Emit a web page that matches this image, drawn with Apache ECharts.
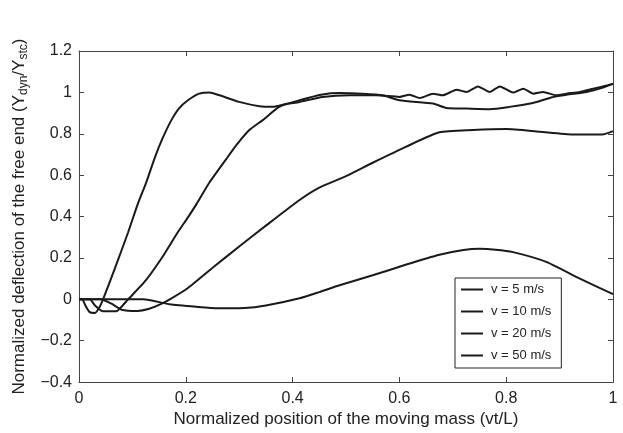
<!DOCTYPE html>
<html>
<head>
<meta charset="utf-8">
<script src="https://cdn.jsdelivr.net/npm/echarts@6/dist/echarts.min.js"></script>
<style>
  html, body { margin: 0; padding: 0; background: #fff; }
  #chart { width: 623px; height: 433px; }
</style>
</head>
<body>
<div id="chart"></div>
<script>
// series names (legend)
const seriesNames = ['v = 5 m/s', 'v = 10 m/s', 'v = 20 m/s', 'v = 50 m/s'];

// [x, y] points
const v5 = [[0, 0], [0.06, 0], [0.12, 0], [0.17, -0.024], [0.22, -0.036], [0.26, -0.043], [0.31, -0.042],
  [0.35, -0.03], [0.413, 0.005], [0.45, 0.035], [0.488, 0.068], [0.55, 0.116], [0.613, 0.168],
  [0.675, 0.215], [0.72, 0.238], [0.75, 0.244], [0.78, 0.24], [0.813, 0.228], [0.876, 0.18],
  [0.938, 0.1], [1.0, 0.025]];

const v10 = [[0, 0], [0.04, 0], [0.06, -0.02], [0.08, -0.05], [0.11, -0.056], [0.13, -0.047],
  [0.15, -0.027], [0.17, 0], [0.204, 0.055], [0.256, 0.165], [0.3, 0.255], [0.35, 0.356], [0.413, 0.48],
  [0.45, 0.54], [0.5, 0.595], [0.55, 0.66], [0.613, 0.738], [0.675, 0.807], [0.738, 0.818],
  [0.8, 0.823], [0.863, 0.81], [0.925, 0.797], [0.98, 0.797], [1.0, 0.813]];

const v20 = [[0, 0], [0.02, 0], [0.03, -0.03], [0.045, -0.058], [0.07, -0.058], [0.08, -0.035],
  [0.092, 0], [0.123, 0.085], [0.154, 0.196], [0.185, 0.324], [0.204, 0.396], [0.22, 0.46], [0.244, 0.563],
  [0.275, 0.675], [0.295, 0.746], [0.319, 0.818], [0.344, 0.866], [0.375, 0.93], [0.413, 0.962],
  [0.456, 0.99], [0.488, 0.997], [0.531, 0.994], [0.569, 0.986], [0.6, 0.962], [0.663, 0.946],
  [0.688, 0.925], [0.726, 0.922], [0.769, 0.919], [0.806, 0.93], [0.85, 0.949], [0.888, 0.978],
  [0.913, 0.989], [0.95, 1.002], [0.975, 1.018], [1.0, 1.041]];

const v50 = [[0, 0], [0.006, 0], [0.012, -0.03], [0.02, -0.062], [0.03, -0.066], [0.038, -0.04],
  [0.045, 0], [0.067, 0.148], [0.092, 0.324], [0.11, 0.46], [0.126, 0.565], [0.142, 0.685],
  [0.156, 0.775], [0.173, 0.866], [0.187, 0.922], [0.204, 0.962], [0.225, 0.994], [0.244, 1.0],
  [0.263, 0.986], [0.3, 0.954], [0.338, 0.933], [0.363, 0.93], [0.39, 0.945], [0.413, 0.954],
  [0.456, 0.978], [0.507, 0.986], [0.557, 0.986], [0.6, 0.978], [0.619, 0.989], [0.638, 0.973],
  [0.663, 0.994], [0.681, 0.986], [0.707, 1.013], [0.726, 1.002], [0.747, 1.029], [0.769, 1.002],
  [0.788, 1.029], [0.813, 0.999], [0.832, 1.018], [0.851, 0.994], [0.869, 1.002], [0.894, 0.986],
  [0.913, 0.994], [0.938, 1.002], [0.963, 1.018], [0.988, 1.033], [1.0, 1.041]];

const curves = [v5, v10, v20, v50];

const xMin = 0, xMax = 1, xStep = 0.2;
const yMin = -0.4, yMax = 1.2, yStep = 0.2;

const font = 'Arial, "Liberation Sans", sans-serif';
const ink = '#1a1a1a';
const axisColor = '#444';

const chart = echarts.init(document.getElementById('chart'), null, { renderer: 'canvas' });

const fmt = v => String(+v.toFixed(2)).replace('-', '\u2212');

const boxAxis = {
  axisLine: { show: true, onZero: false, lineStyle: { color: axisColor, width: 1 } },
  axisTick: { show: true, inside: true, length: 5, lineStyle: { color: axisColor } },
  splitLine: { show: false }
};

chart.setOption({
  animation: false,
  backgroundColor: '#fff',
  grid: { left: 79, right: 10, top: 51, bottom: 48 },
  legend: {
    data: seriesNames,
    orient: 'vertical',
    left: 455,
    top: 278,
    icon: 'rect',
    itemWidth: 22,
    itemHeight: 2,
    itemGap: 9,
    padding: [5, 10, 6, 6],
    backgroundColor: '#fff',
    borderColor: '#222',
    borderWidth: 1,
    borderRadius: 0,
    textStyle: { fontFamily: font, fontSize: 13, color: '#222', padding: [0, 0, 0, 3] }
  },
  xAxis: [
    Object.assign({
      type: 'value', min: xMin, max: xMax, interval: xStep,
      name: 'Normalized position of the moving mass (vt/L)',
      nameLocation: 'middle', nameGap: 27,
      nameTextStyle: { fontFamily: font, fontSize: 17, color: '#222' },
      axisLabel: { fontFamily: font, fontSize: 16, color: '#222', margin: 8, formatter: fmt }
    }, boxAxis),
    Object.assign({
      type: 'value', min: xMin, max: xMax, interval: xStep, position: 'top',
      axisLabel: { show: false }
    }, boxAxis)
  ],
  yAxis: [
    Object.assign({
      type: 'value', min: yMin, max: yMax, interval: yStep,
      name: 'Normalized deflection of the free end (Y{sub|dyn}/Y{sub|stc})',
      nameLocation: 'middle', nameGap: 48,
      nameTextStyle: {
        fontFamily: font, fontSize: 17, color: '#222',
        rich: { sub: { fontFamily: font, fontSize: 12, color: '#222', padding: [9, 0, 0, 0] } }
      },
      axisLabel: { fontFamily: font, fontSize: 16, color: '#222', margin: 7, formatter: fmt }
    }, boxAxis),
    Object.assign({
      type: 'value', min: yMin, max: yMax, interval: yStep, position: 'right',
      axisLabel: { show: false }
    }, boxAxis)
  ],
  series: curves.map((d, i) => ({
    name: seriesNames[i],
    type: 'line',
    data: d,
    showSymbol: false,
    smooth: 0.2,
    lineStyle: { color: ink, width: 2 },
    itemStyle: { color: ink },
    z: 2
  }))
});
</script>
</body>
</html>
